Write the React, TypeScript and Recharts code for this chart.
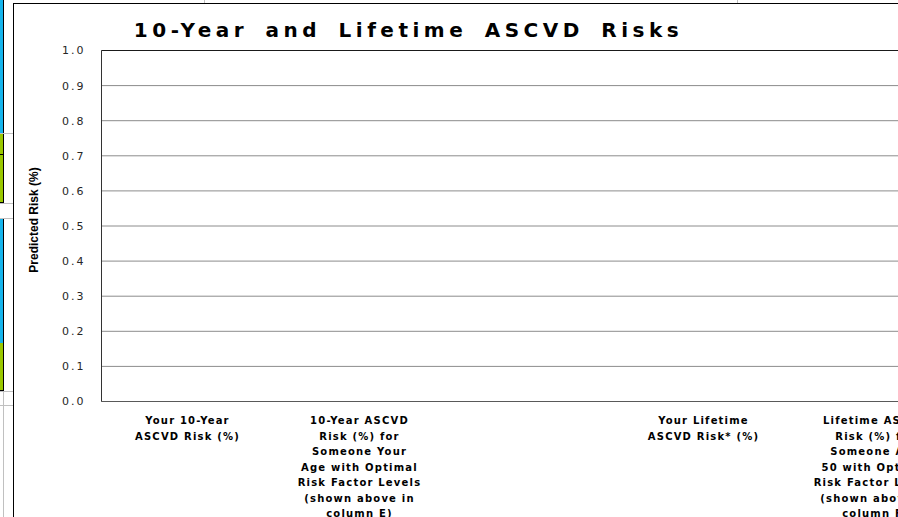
import { Bar, BarChart, CartesianGrid, ReferenceLine, XAxis, YAxis } from 'recharts'

// categories as they appear under the axis (line breaks are the wrapped lines);
// the empty slot separates the 10-year pair from the lifetime pair
const categories = [
  'Your 10-Year\nASCVD Risk (%)',
  '10-Year ASCVD\nRisk (%) for\nSomeone Your\nAge with Optimal\nRisk Factor Levels\n(shown above in\ncolumn E)',
  '',
  'Your Lifetime\nASCVD Risk* (%)',
  'Lifetime ASCVD\nRisk (%) for\nSomeone Age\n50 with Optimal\nRisk Factor Levels\n(shown above in\ncolumn F)',
]

// no risk has been computed yet, so every bar is empty
const riskValues: (number | null)[] = [0, 0, null, 0, 0]

const yTicks = [0, 0.1, 0.2, 0.3, 0.4, 0.5, 0.6, 0.7, 0.8, 0.9, 1.0]

const chartTitle = '10-Year and Lifetime ASCVD Risks'
const yLabel = 'Predicted Risk (%)'

const data = categories.map((name, i) => ({ name, risk: riskValues[i] }))

const labelFont = '"DejaVu Sans", Verdana, sans-serif'

function CategoryTick({ x, y, payload }: any) {
  const lines = String(payload.value).split('\n')
  return (
    <text
      x={x}
      y={y}
      textAnchor="middle"
      fontFamily={labelFont}
      fontSize={10}
      fontWeight="bold"
      letterSpacing={1.2}
      fill="#000"
    >
      {lines.map((line, i) => (
        <tspan key={i} x={x} dy={i === 0 ? 22.5 : 15.5}>
          {line}
        </tspan>
      ))}
    </text>
  )
}

function YAxisTitle({ viewBox }: any) {
  const cx = viewBox.x + 20
  const cy = viewBox.y + viewBox.height / 2 - 6
  return (
    <text
      x={cx}
      y={cy}
      transform={`rotate(-90, ${cx}, ${cy})`}
      textAnchor="middle"
      dominantBaseline="central"
      fontFamily='"Liberation Sans", Arial, sans-serif'
      fontSize={12}
      fontWeight="bold"
      fill="#000"
    >
      {yLabel}
    </text>
  )
}

// bits of the surrounding worksheet that show round the chart frame
function SheetEdge() {
  const cell = (top: number, height: number, color: string) => ({
    position: 'absolute' as const,
    left: 0,
    top,
    width: 3,
    height,
    background: color,
    borderRight: '1px solid #000',
  })
  const hline = (top: number, color = '#c0c0c0') => ({
    position: 'absolute' as const,
    left: 0,
    top,
    width: 13,
    height: 1,
    background: color,
  })
  return (
    <>
      <div style={cell(0, 133, '#14b4ec')} />
      <div style={hline(133)} />
      <div style={cell(134, 20, '#9ac800')} />
      <div style={{ ...hline(154, '#000'), width: 4 }} />
      <div style={cell(155, 47, '#9ac800')} />
      <div style={{ ...hline(202, '#000'), width: 4 }} />
      <div style={hline(203)} />
      <div style={hline(218)} />
      <div style={cell(219, 124, '#14b4ec')} />
      <div style={cell(343, 47, '#9ac800')} />
      <div style={{ ...hline(390, '#000'), width: 4 }} />
      <div style={hline(391)} />
      <div style={hline(405)} />
      <div
        style={{ position: 'absolute', left: 3, top: 391, width: 1, height: 130, background: '#c0c0c0' }}
      />
      <div style={{ position: 'absolute', left: 204, top: 0, width: 1, height: 3, background: '#c0c0c0' }} />
      <div style={{ position: 'absolute', left: 737, top: 0, width: 1, height: 3, background: '#c0c0c0' }} />
    </>
  )
}

export default function App() {
  return (
    <div
      style={{
        position: 'fixed',
        left: 0,
        top: 0,
        width: 898,
        height: 517,
        overflow: 'hidden',
        background: '#fff',
      }}
    >
      <SheetEdge />
      <div
        style={{
          position: 'absolute',
          left: 13,
          top: 3,
          width: 1000,
          height: 600,
          borderLeft: '1px solid #000',
          borderTop: '1px solid #000',
          boxSizing: 'border-box',
        }}
      />
      <div
        style={{
          position: 'absolute',
          left: 0,
          top: 20,
          width: 817,
          textAlign: 'center',
          fontFamily: labelFont,
          fontSize: 20,
          lineHeight: '20px',
          fontWeight: 'bold',
          letterSpacing: 4.5,
          wordSpacing: 6,
          color: '#000',
          whiteSpace: 'nowrap',
        }}
      >
        {chartTitle}
      </div>
      <div style={{ position: 'absolute', left: 0, top: 0 }}>
        <BarChart
          width={975}
          height={530}
          data={data}
          margin={{ top: 50.5, right: 13.5, left: 13.5, bottom: 98.5 }}
          barCategoryGap="40%"
        >
          <CartesianGrid vertical={false} stroke="#8c8c8c" />
          <XAxis
            dataKey="name"
            height={30}
            interval={0}
            tickLine={false}
            tickSize={0}
            tickMargin={0}
            axisLine={{ stroke: '#595959' }}
            tick={<CategoryTick />}
          />
          <YAxis
            width={88}
            domain={[0, 1]}
            ticks={yTicks}
            tickFormatter={(v: number) => v.toFixed(1)}
            tickLine={false}
            tickSize={0}
            tickMargin={16}
            axisLine={{ stroke: '#333' }}
            tick={{ fontSize: 11, fill: '#262626', fontFamily: labelFont, letterSpacing: 2 }}
            label={<YAxisTitle />}
          />
          <ReferenceLine y={1} stroke="#1a1a1a" />
          <Bar dataKey="risk" fill="#4f81bd" isAnimationActive={false} />
        </BarChart>
      </div>
    </div>
  )
}
